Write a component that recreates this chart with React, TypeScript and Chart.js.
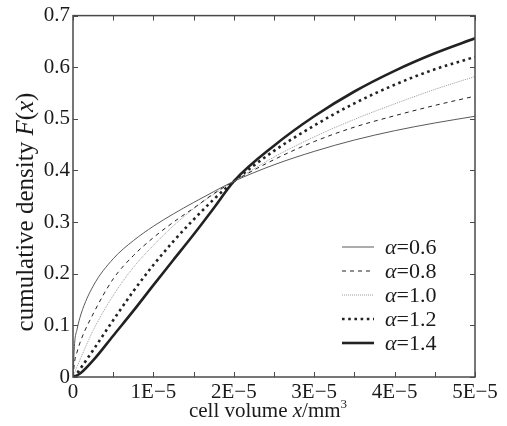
import React, { useEffect, useRef } from "react";
import { Chart, registerables } from "chart.js";

Chart.register(...registerables);

// cell volume in units of 1E-5 mm^3
const volumeE5 = [0, 0.02, 0.05, 0.1, 0.25, 0.5, 0.75, 1, 1.25, 1.5, 1.75, 2, 2.5, 3, 3.5, 4, 4.5, 5];

const alphas = [0.6, 0.8, 1.0, 1.2, 1.4];

const cdfA06 = [0, 0.065, 0.092, 0.122, 0.176, 0.229, 0.264, 0.292, 0.316, 0.338, 0.359, 0.379, 0.411, 0.437, 0.459, 0.477, 0.492, 0.505];
const cdfA08 = [0, 0.03, 0.048, 0.072, 0.122, 0.19, 0.235, 0.27, 0.3, 0.327, 0.355, 0.379, 0.421, 0.456, 0.484, 0.506, 0.526, 0.544];
const cdfA10 = [0, 0.008, 0.02, 0.038, 0.09, 0.158, 0.212, 0.255, 0.293, 0.326, 0.354, 0.379, 0.426, 0.465, 0.499, 0.529, 0.557, 0.582];
const cdfA12 = [0, 0.002, 0.007, 0.018, 0.052, 0.11, 0.166, 0.217, 0.263, 0.305, 0.344, 0.379, 0.438, 0.487, 0.53, 0.566, 0.596, 0.62];
const cdfA14 = [0, 0.001, 0.003, 0.008, 0.032, 0.08, 0.128, 0.178, 0.227, 0.276, 0.327, 0.379, 0.448, 0.505, 0.553, 0.593, 0.627, 0.656];

const series = [cdfA06, cdfA08, cdfA10, cdfA12, cdfA14];

const yTicks = [0, 0.1, 0.2, 0.3, 0.4, 0.5, 0.6, 0.7];
const xTicks = [0, 1, 2, 3, 4, 5];
const xMinorTicks = [0, 0.5, 1, 1.5, 2, 2.5, 3, 3.5, 4, 4.5, 5];

const styles = [
  { color: "#5a5a5a", width: 1, dash: [] as number[] },
  { color: "#222222", width: 1, dash: [4, 4] },
  { color: "#9a9a9a", width: 1, dash: [1, 1] },
  { color: "#222222", width: 2.6, dash: [2.6, 3.6] },
  { color: "#222222", width: 2.6, dash: [] as number[] },
];

const SERIF = "'Liberation Serif', 'Times New Roman', serif";
const TICK_SIZE = 21;

type Run = { t: string; italic?: boolean; sup?: boolean };

function drawRuns(ctx: CanvasRenderingContext2D, runs: Run[], x: number, y: number, align: "center" | "left", size: number) {
  const fontFor = (r: Run) => `${r.italic ? "italic " : ""}${r.sup ? Math.round(size * 0.6) : size}px ${SERIF}`;
  let total = 0;
  const widths = runs.map((r) => {
    ctx.font = fontFor(r);
    const w = ctx.measureText(r.t).width;
    total += w;
    return w;
  });
  let cx = align === "center" ? x - total / 2 : x;
  runs.forEach((r, i) => {
    ctx.font = fontFor(r);
    ctx.fillText(r.t, cx, r.sup ? y - size * 0.42 : y);
    cx += widths[i];
  });
}

const decorPlugin = {
  id: "decor",
  afterDraw(chart: any) {
    const { ctx, chartArea } = chart;
    const { left, right, top, bottom } = chartArea;
    const xs = chart.scales.x;
    const ys = chart.scales.y;
    ctx.save();
    // frame
    ctx.strokeStyle = "#4a4a4a";
    ctx.lineWidth = 1.5;
    ctx.setLineDash([]);
    ctx.strokeRect(left, top, right - left, bottom - top);
    // inward ticks
    ctx.lineWidth = 1;
    const tl = 5;
    ctx.beginPath();
    xMinorTicks.forEach((v) => {
      const px = Math.round(xs.getPixelForValue(v)) + 0.5;
      ctx.moveTo(px, bottom);
      ctx.lineTo(px, bottom - tl);
      ctx.moveTo(px, top);
      ctx.lineTo(px, top + tl);
    });
    yTicks.forEach((v) => {
      const py = Math.round(ys.getPixelForValue(v)) + 0.5;
      ctx.moveTo(left, py);
      ctx.lineTo(left + tl, py);
      ctx.moveTo(right, py);
      ctx.lineTo(right - tl, py);
    });
    ctx.stroke();

    ctx.fillStyle = "#1a1a1a";
    ctx.textBaseline = "alphabetic";
    // x title
    drawRuns(
      ctx,
      [{ t: "cell volume " }, { t: "x", italic: true }, { t: "/mm" }, { t: "3", sup: true }],
      (left + right) / 2 - 6,
      417,
      "center",
      21
    );
    // y title
    ctx.save();
    ctx.translate(33, 212);
    ctx.rotate(-Math.PI / 2);
    drawRuns(
      ctx,
      [{ t: "cumulative density " }, { t: "F", italic: true }, { t: "(" }, { t: "x", italic: true }, { t: ")" }],
      0,
      0,
      "center",
      25
    );
    ctx.restore();

    // legend
    const lx0 = 342;
    const lx1 = 374;
    chart.data.datasets.forEach((ds: any, i: number) => {
      const y = 247 + i * 24;
      ctx.beginPath();
      ctx.strokeStyle = ds.borderColor;
      ctx.lineWidth = ds.borderWidth;
      ctx.setLineDash(ds.borderDash || []);
      ctx.moveTo(lx0, y);
      ctx.lineTo(lx1, y);
      ctx.stroke();
      ctx.setLineDash([]);
      ctx.fillStyle = "#1a1a1a";
      ctx.textBaseline = "middle";
      drawRuns(ctx, [{ t: "α", italic: true }, { t: "=" + alphas[i].toFixed(1) }], 385, y + 1, "left", 22);
    });
    ctx.restore();
  },
};

export default function App() {
  const ref = useRef<HTMLCanvasElement | null>(null);
  useEffect(() => {
    if (!ref.current) return;
    const chart = new Chart(ref.current, {
      type: "line",
      data: {
        datasets: series.map((vals, i) => ({
          label: `α=${alphas[i].toFixed(1)}`,
          data: volumeE5.map((x, j) => ({ x, y: vals[j] })),
          borderColor: styles[i].color,
          borderWidth: styles[i].width,
          borderDash: styles[i].dash,
          pointRadius: 0,
          fill: false,
          cubicInterpolationMode: "monotone" as const,
          borderCapStyle: "butt" as const,
        })),
      },
      options: {
        responsive: false,
        animation: false,
        layout: { padding: { left: 0, top: 13, right: 32, bottom: 0 } },
        plugins: { legend: { display: false }, tooltip: { enabled: false } },
        scales: {
          x: {
            type: "linear",
            min: 0,
            max: 5,
            afterFit: (s: any) => {
              s.height = 49;
            },
            afterBuildTicks: (s: any) => {
              s.ticks = xTicks.map((v) => ({ value: v }));
            },
            grid: { display: false, drawTicks: false },
            border: { display: false },
            ticks: {
              padding: 3,
              color: "#1a1a1a",
              font: { family: SERIF, size: TICK_SIZE },
              maxRotation: 0,
              callback: (v: any) => (Number(v) === 0 ? "0" : `${v}E\u22125`),
            },
          },
          y: {
            min: 0,
            max: 0.7,
            afterFit: (s: any) => {
              s.width = 73;
            },
            afterBuildTicks: (s: any) => {
              s.ticks = yTicks.map((v) => ({ value: v }));
            },
            grid: { display: false, drawTicks: false },
            border: { display: false },
            ticks: {
              padding: 3,
              color: "#1a1a1a",
              font: { family: SERIF, size: TICK_SIZE },
              callback: (v: any) => (Number(v) === 0 ? "0" : Number(v).toFixed(1)),
            },
          },
        },
      },
      plugins: [decorPlugin],
    });
    return () => chart.destroy();
  }, []);
  return (
    <div style={{ position: "absolute", left: 0, top: 0, width: 507, height: 426, background: "#fff" }}>
      <canvas ref={ref} width={507} height={426} style={{ width: 507, height: 426, display: "block" }} />
    </div>
  );
}
